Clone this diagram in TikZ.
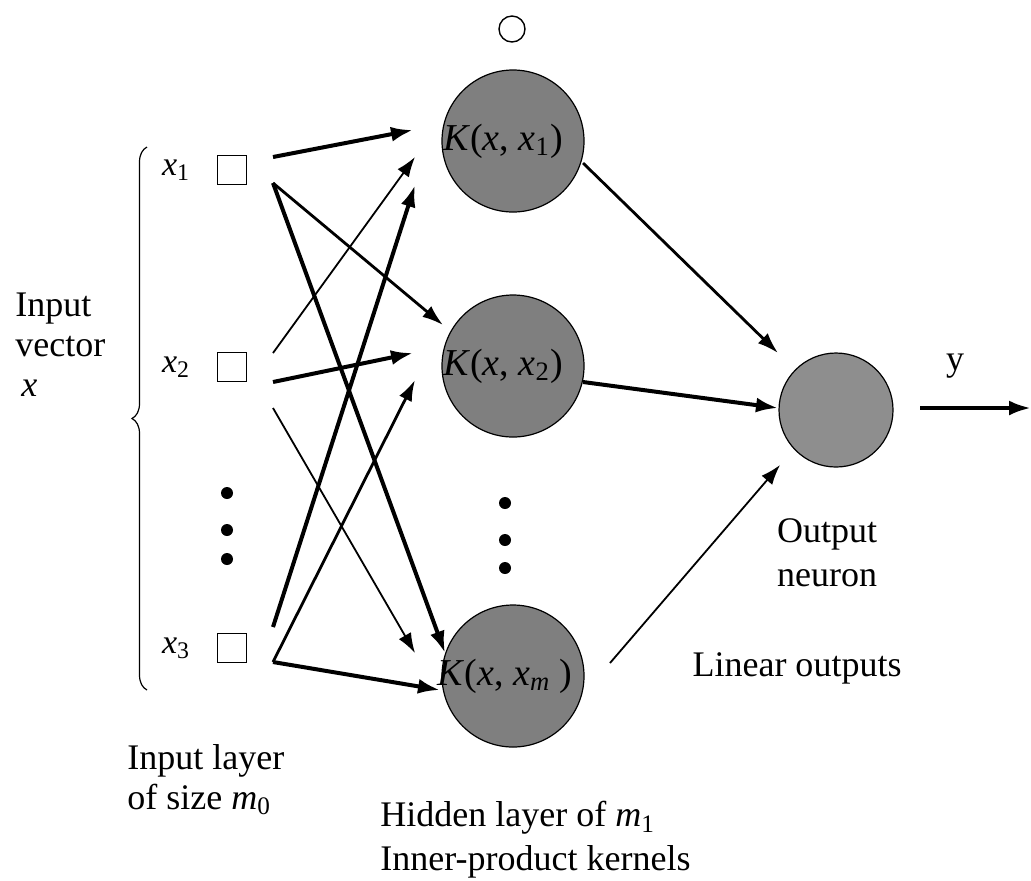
\documentclass[tikz,border=0pt]{standalone}
\usepackage{fontspec}
\setmainfont{Liberation Serif}
\usetikzlibrary{arrows.meta,calc,decorations.pathreplacing}
\definecolor{hidgray}{HTML}{7F7F7F}
\definecolor{outgray}{HTML}{8E8E8E}
\begin{document}
\begin{tikzpicture}[x=0.5pt,y=-0.5pt,
  hid/.style={circle, draw=black, line width=0.6pt, fill=hidgray, minimum size=71pt, inner sep=0pt, font=\fontsize{19}{22}\selectfont},
  outn/.style={circle, draw=black, line width=0.6pt, fill=outgray, minimum size=57pt, inner sep=0pt},
  topc/.style={circle, draw=black, line width=0.7pt, minimum size=13pt, inner sep=0pt},
  inbox/.style={rectangle, draw=black, line width=0.7pt, minimum size=14.5pt, inner sep=0pt},
  blob/.style={circle, fill=black, minimum size=6pt, inner sep=0pt},
  lbl/.style={font=\fontsize{18}{20}\selectfont, inner sep=0pt},
  xlbl/.style={font=\fontsize{17}{20}\selectfont, inner sep=0pt},
  wthick/.style={line width=2pt, -{Latex[length=11pt,width=7.5pt]}},
  wmed/.style={line width=1.4pt, -{Latex[length=10.5pt,width=7pt]}},
  wthin/.style={line width=0.9pt, -{Latex[length=10pt,width=7pt]}}
]
\useasboundingbox (0,0) rectangle (1031,880);

% hidden layer
\node[topc] (c0) at (512,29) {};
\node[hid] (K1) at (513,141) {\makebox[0pt][c]{\textit{K}(\textit{x}, \textit{x}\textsubscript{1})\hspace{10pt}}};
\node[hid] (K2) at (513,366) {\makebox[0pt][c]{\textit{K}(\textit{x}, \textit{x}\textsubscript{2})\hspace{10pt}}};
\node[hid] (Km) at (513,676) {\makebox[0pt][c]{\textit{K}(\textit{x}, \textit{x}\textsubscript{\textit{m}}\ )\hspace{8pt}}};
\node[blob] (hd1) at (505,503) {};
\node[blob] (hd2) at (505,540) {};
\node[blob] (hd3) at (505,568) {};

% output
\node[outn] (out) at (836,410) {};
\coordinate (yout) at (1031,408);

% input layer
\node[inbox] (x1) at (232,170) {};
\node[inbox] (x2) at (232,367) {};
\node[inbox] (x3) at (232,648) {};
\node[xlbl] (lx1) at (176,170) {\textit{x}\textsubscript{1}};
\node[xlbl] (lx2) at (176,367) {\textit{x}\textsubscript{2}};
\node[xlbl] (lx3) at (176,648) {\textit{x}\textsubscript{3}};
\node[blob] (id1) at (227,493) {};
\node[blob] (id2) at (227,530) {};
\node[blob] (id3) at (227,559) {};

% brace
\coordinate (bb) at (147,690);
\coordinate (bt) at (147,147);
\draw[line width=0.6pt, decorate, decoration={brace, amplitude=7.5pt}] (bb) -- (bt);

% input -> hidden
\draw[wthick] ($(x1)+(41,-13)$) -- ($(K1)+(-100,-11)$);
\draw[wthin]  ($(x2)+(41,-14)$) -- ($(K1)+(-98,16)$);
\draw[wthick] ($(x3)+(41,-21)$) -- ($(K1)+(-98,44)$);
\draw[wmed]   ($(x1)+(41,13)$) -- ($(K2)+(-70,-41)$);
\draw[wthick] ($(x2)+(41,15)$) -- ($(K2)+(-100,-13)$);
\draw[wmed]   ($(x3)+(41,14)$) -- ($(K2)+(-98,14)$);
\draw[wthick] ($(x1)+(41,13)$) -- ($(Km)+(-68,-23)$);
\draw[wthin]  ($(x2)+(41,41)$) -- ($(Km)+(-98,-23)$);
\draw[wthick] ($(x3)+(41,14)$) -- ($(Km)+(-73,14)$);

% hidden -> output
\draw[wmed]   ($(K1)+(70,22)$) -- ($(out)+(-58,-57)$);
\draw[wthick] ($(K2)+(70,16)$) -- ($(out)+(-58,-2)$);
\draw[wthin]  ($(Km)+(97,-13)$) -- ($(out)+(-56,55)$);
\draw[wthick] ($(out)+(84,-2)$) -- (yout);

% labels
\node[lbl, align=left, anchor=west] (invec) at (15,345) {Input\\vector\\\hspace{3pt}\textit{x}};
\node[lbl] (ylab) at (955,366) {y};
\node[lbl, align=center] (outlab) at (827,553) {Output\\[2pt]neuron};
\node[lbl] (linlab) at (797,668) {Linear outputs};
\node[lbl, align=left, anchor=west] (inlay) at (127,780) {Input layer\\[0pt]of size \textit{m}\textsubscript{0}};
\node[lbl, align=left, anchor=west] (hidlay) at (380,840) {Hidden layer of \textit{m}\textsubscript{1}\\[2pt]Inner-product kernels};
\end{tikzpicture}
\end{document}
